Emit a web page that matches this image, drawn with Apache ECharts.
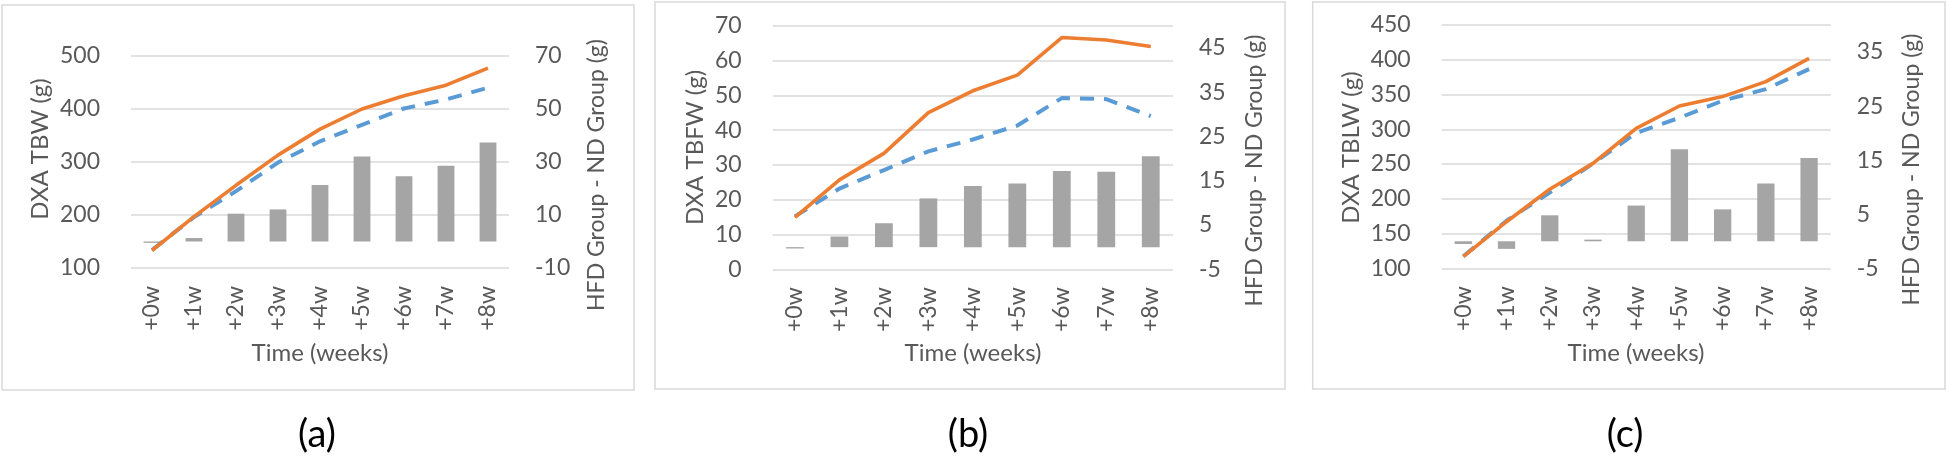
<!DOCTYPE html>
<html><head><meta charset="utf-8">
<script src="https://cdn.jsdelivr.net/npm/echarts@6/dist/echarts.min.js"></script>
<style>html,body{margin:0;padding:0;background:#fff}#c{width:1947px;height:456px}</style>
</head><body><div id="c"></div>
<script>
// ---- data ----
const categories = ['+0w', '+1w', '+2w', '+3w', '+4w', '+5w', '+6w', '+7w', '+8w'];

// (a) DXA TBW (g)
const tbwHFD  = [133, 197, 256, 313, 362, 400, 425, 445, 477];
const tbwND   = [134, 196, 245, 299, 339, 370, 401, 418, 440];
const tbwDiff = [-0.5, 1.3, 10.5, 12.1, 21.3, 32.1, 24.6, 28.6, 37.4];

// (b) DXA TBFW (g)
const tbfwHFD  = [14.9, 25.7, 33.3, 45.0, 51.3, 55.8, 66.6, 65.9, 64.0];
const tbfwND   = [15.2, 23.2, 28.5, 33.9, 37.3, 41.3, 49.2, 48.9, 44.0];
const tbfwDiff = [-0.3, 2.4, 5.4, 11.0, 13.8, 14.4, 17.2, 17.0, 20.5];

// (c) DXA TBLW (g)
const tblwHFD  = [116.7, 167, 213.7, 251, 301.4, 333.5, 347, 368.5, 402];
const tblwND   = [117.3, 168.5, 209, 250.7, 294.8, 316.5, 341.1, 357.8, 386.6];
const tblwDiff = [-0.5, -1.4, 4.8, 0.3, 6.6, 17.0, 5.9, 10.7, 15.4];

const leftNames  = ['DXA TBW (g)', 'DXA TBFW (g)', 'DXA TBLW (g)'];
const rightName  = 'HFD Group - ND Group (g)';
const xName      = 'Time (weeks)';
const panelTags  = ['(a)', '(b)', '(c)'];

// left axis ranges [min, max, interval], right axis ranges
const leftRanges  = [[100, 500, 100], [0, 70, 10], [100, 450, 50]];
const rightRanges = [[-10, 70, 20], [-5, 50, 10], [-5, 40, 10]];

// ---- layout / style ----
const FONT = 'Lato';
const TXT = '#595959';
const ORANGE = '#ED7D31', BLUE = '#5B9BD5', GRAY = '#A5A5A5', GRID = '#d9d9d9';
const TICK_FS = 23, NAME_FS = 24;

const grids = [
  {left: 131, top: 56, width: 378, height: 212},
  {left: 772.7, top: 25.7, width: 400.3, height: 243.6},
  {left: 1441.7, top: 25, width: 389, height: 243.3}
];
const borders = [
  {x: 2, y: 5, width: 632, height: 385},
  {x: 655, y: 2, width: 630, height: 387},
  {x: 1312.7, y: 2, width: 632.3, height: 387}
];
const leftNamePos  = [[40, 149], [695, 147.5], [1351.7, 147.5]];
const rightNamePos = [[597, 175], [1255, 170.5], [1911.7, 169.5]];
const xNamePos     = [[320, 353], [973, 353], [1636, 353]];
const tagPos       = [[317, 435], [968, 435], [1625, 435]];

const hfd  = [tbwHFD, tbfwHFD, tblwHFD];
const nd   = [tbwND, tbfwND, tblwND];
const diff = [tbwDiff, tbfwDiff, tblwDiff];

const option = {
  animation: false,
  backgroundColor: '#fff',
  textStyle: {fontFamily: FONT},
  grid: grids.map(g => Object.assign({containLabel: false}, g)),
  xAxis: grids.map((g, i) => ({
    type: 'category', gridIndex: i, data: categories, boundaryGap: true,
    axisLine: {show: false}, axisTick: {show: false},
    axisLabel: {rotate: 90, margin: 18, fontSize: TICK_FS, color: TXT, fontFamily: FONT}
  })),
  yAxis: [],
  series: [],
  graphic: []
};

for (let i = 0; i < 3; i++) {
  const [lmin, lmax, lint] = leftRanges[i];
  const [rmin, rmax, rint] = rightRanges[i];
  option.yAxis.push({
    type: 'value', gridIndex: i, position: 'left', min: lmin, max: lmax, interval: lint,
    axisLine: {show: false}, axisTick: {show: false},
    splitLine: {show: true, lineStyle: {color: GRID, width: 1.5}},
    axisLabel: {margin: 31, fontSize: TICK_FS, color: TXT, fontFamily: FONT}
  });
  option.yAxis.push({
    type: 'value', gridIndex: i, position: 'right', min: rmin, max: rmax, interval: rint,
    axisLine: {show: false}, axisTick: {show: false}, splitLine: {show: false},
    axisLabel: {margin: 26, fontSize: TICK_FS, color: TXT, fontFamily: FONT,
                showMaxLabel: (rmax - rmin) % rint === 0}
  });
  option.series.push({
    name: 'HFD Group - ND Group', type: 'bar', xAxisIndex: i, yAxisIndex: 2 * i + 1,
    data: diff[i], barCategoryGap: '60%', itemStyle: {color: GRAY}
  });
  option.series.push({
    name: 'ND Group', type: 'line', xAxisIndex: i, yAxisIndex: 2 * i,
    data: nd[i], symbol: 'none',
    lineStyle: {color: BLUE, width: 4, type: [14, 10], cap: 'butt'}
  });
  option.series.push({
    name: 'HFD Group', type: 'line', xAxisIndex: i, yAxisIndex: 2 * i,
    data: hfd[i], symbol: 'none',
    lineStyle: {color: ORANGE, width: 3.6}
  });

  option.graphic.push({
    type: 'rect', z: -10, silent: true, shape: borders[i],
    style: {fill: 'none', stroke: GRID, lineWidth: 1.5}
  });
  option.graphic.push({
    type: 'text', x: leftNamePos[i][0], y: leftNamePos[i][1], rotation: Math.PI / 2,
    style: {text: leftNames[i], fontSize: NAME_FS, fontFamily: FONT, fill: TXT,
            textAlign: 'center', textVerticalAlign: 'middle'}
  });
  option.graphic.push({
    type: 'text', x: rightNamePos[i][0], y: rightNamePos[i][1], rotation: Math.PI / 2,
    style: {text: rightName, fontSize: NAME_FS - 1, fontFamily: FONT, fill: TXT,
            textAlign: 'center', textVerticalAlign: 'middle'}
  });
  option.graphic.push({
    type: 'text', x: xNamePos[i][0], y: xNamePos[i][1],
    style: {text: xName, fontSize: NAME_FS, fontFamily: FONT, fill: TXT,
            textAlign: 'center', textVerticalAlign: 'middle'}
  });
  option.graphic.push({
    type: 'text', x: tagPos[i][0], y: tagPos[i][1],
    style: {text: panelTags[i], fontSize: 38, fontFamily: FONT, fill: '#000',
            textAlign: 'center', textVerticalAlign: 'middle'}
  });
}

const chart = echarts.init(document.getElementById('c'), null, {renderer: 'canvas'});
chart.setOption(option);
</script>
</body></html>
